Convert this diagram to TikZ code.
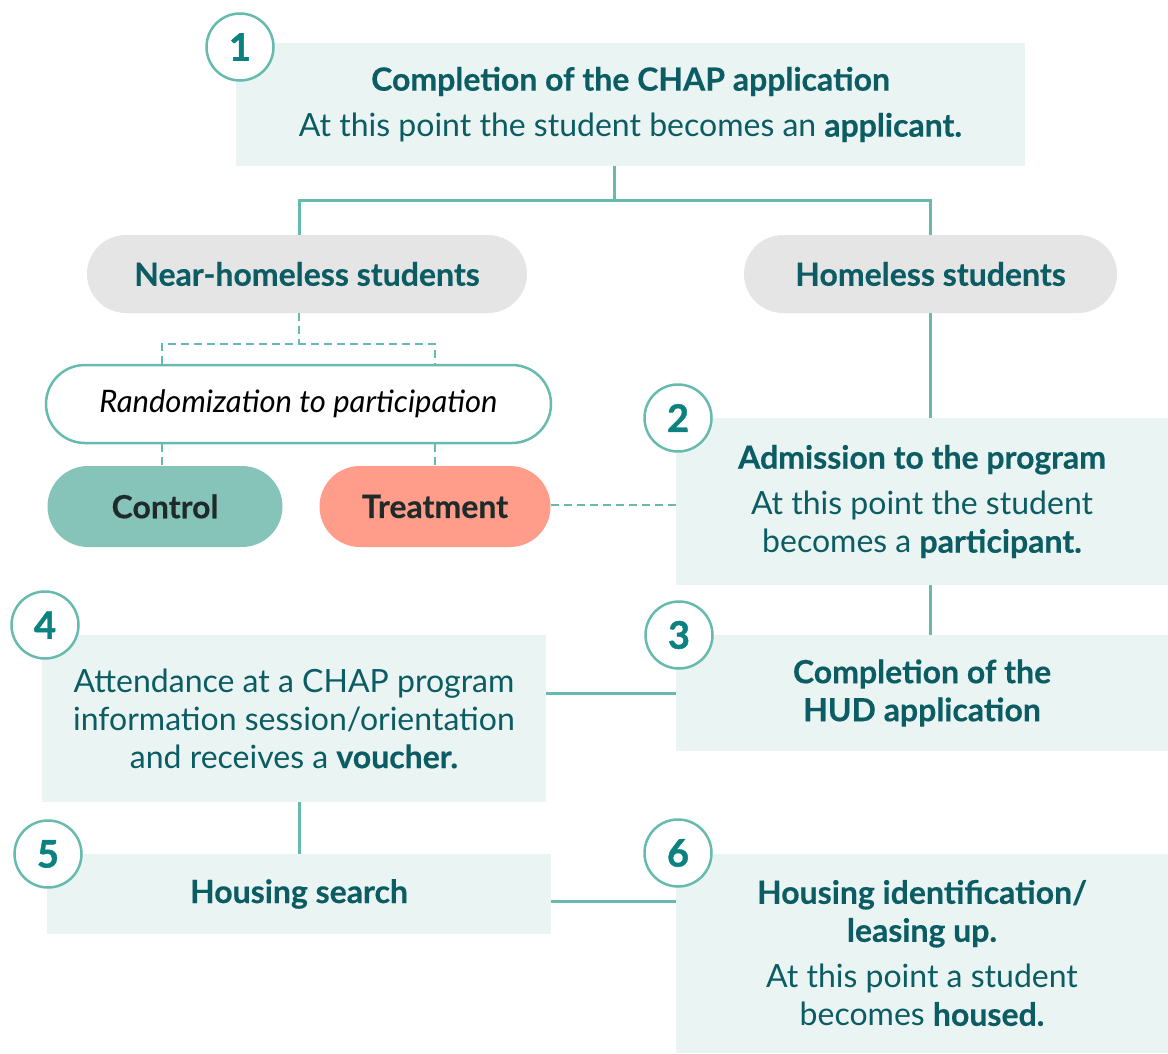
\documentclass[tikz,border=0pt]{standalone}
\usepackage{fontspec}
\setmainfont{Lato}[BoldFeatures={FakeBold=0.4}]
\newfontfamily\numfont{Lato}[FakeBold=1.2]

\definecolor{boxfill}{HTML}{EAF4F2}
\definecolor{tealline}{HTML}{66BAAE}
\definecolor{darkteal}{HTML}{0B5C63}
\definecolor{numteal}{HTML}{0B8280}
\definecolor{pillgrey}{HTML}{E5E5E5}
\definecolor{ctrlfill}{HTML}{86C4BA}
\definecolor{treatfill}{HTML}{FF9C8A}
\definecolor{pilltext}{HTML}{1F2B2B}

\tikzset{
    stagebox/.style={fill=boxfill, text=darkteal, align=center, inner sep=0pt,
        font=\fontsize{16}{19}\selectfont},
    pill/.style={inner sep=0pt, font=\bfseries\fontsize{16}{19}\selectfont},
    numcirc/.style={circle, draw=tealline, line width=1.25pt, fill=white,
        minimum size=33.5pt, inner sep=0pt, text=numteal,
        font=\numfont\bfseries\fontsize{19}{19}\selectfont},
    link/.style={draw=tealline, line width=1.5pt},
    dotlink/.style={draw=tealline, line width=1.25pt, dash pattern=on 4pt off 2.5pt},
}

\begin{document}
\begin{tikzpicture}[x=0.5pt, y=-0.5pt]
        \useasboundingbox (0,0) rectangle (1168,1054);

        % stages
        \node[stagebox, minimum width=394.5pt, minimum height=61.5pt] (app) at (630.5,104.5)
            {\rule{0pt}{3pt}{\bfseries Completion of the CHAP application}\\[4pt]
             At this point the student becomes an {\bfseries applicant.}};
        \node[stagebox, minimum width=246pt, minimum height=83.5pt] (admit) at (922,501.5)
            {{\bfseries Admission to the program}\\[4pt]
             At this point the student\\ becomes a {\bfseries participant.}};
        \node[stagebox, minimum width=246pt, minimum height=58pt, font=\bfseries\fontsize{16}{19}\selectfont] (hud) at (922,693)
            {Completion of the\\ HUD application};
        \node[stagebox, minimum width=252pt, minimum height=83.5pt] (orient) at (294,718.5)
            {Attendance at a CHAP program\\ information session/orientation\\
             and receives a {\bfseries voucher.}};
        \node[stagebox, minimum width=252pt, minimum height=40pt, font=\bfseries\fontsize{16}{19}\selectfont] (search) at (299,894)
            {Housing search};
        \node[stagebox, minimum width=246pt, minimum height=99.5pt] (housed) at (922,953)
            {{\bfseries Housing identification/}\\ {\bfseries leasing up.}\\[4pt]
             At this point a student\\ becomes {\bfseries housed.}};

        % groups
        \node[pill, fill=pillgrey, text=darkteal, rounded corners=19.5pt,
            minimum width=220pt, minimum height=39pt] (near) at (307,274) {Near-homeless students};
        \node[pill, fill=pillgrey, text=darkteal, rounded corners=19.5pt,
            minimum width=186.5pt, minimum height=39pt] (home) at (930.5,274) {Homeless students};
        \node[pill, fill=white, draw=tealline, line width=1.25pt, rounded corners=19.5pt,
            minimum width=252.5pt, minimum height=39pt, font=\itshape\fontsize{15.5}{19}\selectfont,
            text=black] (rand) at (298.5,404) {Randomization to participation};
        \node[pill, fill=ctrlfill, text=pilltext, rounded corners=20.25pt,
            minimum width=117.5pt, minimum height=40.5pt] (ctrl) at (165,506.5) {Control};
        \node[pill, fill=treatfill, text=pilltext, rounded corners=20.25pt,
            minimum width=115.5pt, minimum height=40.5pt] (treat) at (435,506.5) {Treatment};

        % connectors
        \coordinate (split) at (614,201);
        \coordinate (nx) at (299,201);
        \coordinate (hx) at (930,201);
        \coordinate (dsplit) at (299,344);
        \coordinate (dl) at (162,344);
        \coordinate (dr) at (435,344);
        \coordinate (r56) at (0,901);
        \coordinate (t2) at (0,505);

        \draw[link] (split |- app.south) -- (split);
        \draw[link] (nx |- near.north) -- (nx) -- (hx) -- (hx |- home.north);
        \draw[link] (hx |- home.south) -- (hx |- admit.north);
        \draw[link] (hx |- admit.south) -- (hx |- hud.north);
        \draw[link] (hud.west -| orient.east) -- (hud.west);
        \draw[link] (search.north |- orient.south) -- (search.north);
        \draw[link] (search.east |- r56) -- (housed.west |- r56);

        \draw[dotlink] (dsplit |- near.south) -- (dsplit);
        \draw[dotlink] (dl |- rand.north) -- (dl) -- (dr) -- (dr |- rand.north);
        \draw[dotlink] (dl |- rand.south) -- (dl |- ctrl.north);
        \draw[dotlink] (dr |- rand.south) -- (dr |- treat.north);
        \draw[dotlink] (treat.east |- t2) -- (admit.west |- t2);

        % step numbers
        \node[numcirc] (n1) at (240,47) {1};
        \node[numcirc] (n2) at (678,418) {2};
        \node[numcirc] (n3) at (679,635) {3};
        \node[numcirc] (n4) at (45,625) {4};
        \node[numcirc] (n5) at (48,854) {5};
        \node[numcirc] (n6) at (678,853) {6};
    \end{tikzpicture}
\end{document}
